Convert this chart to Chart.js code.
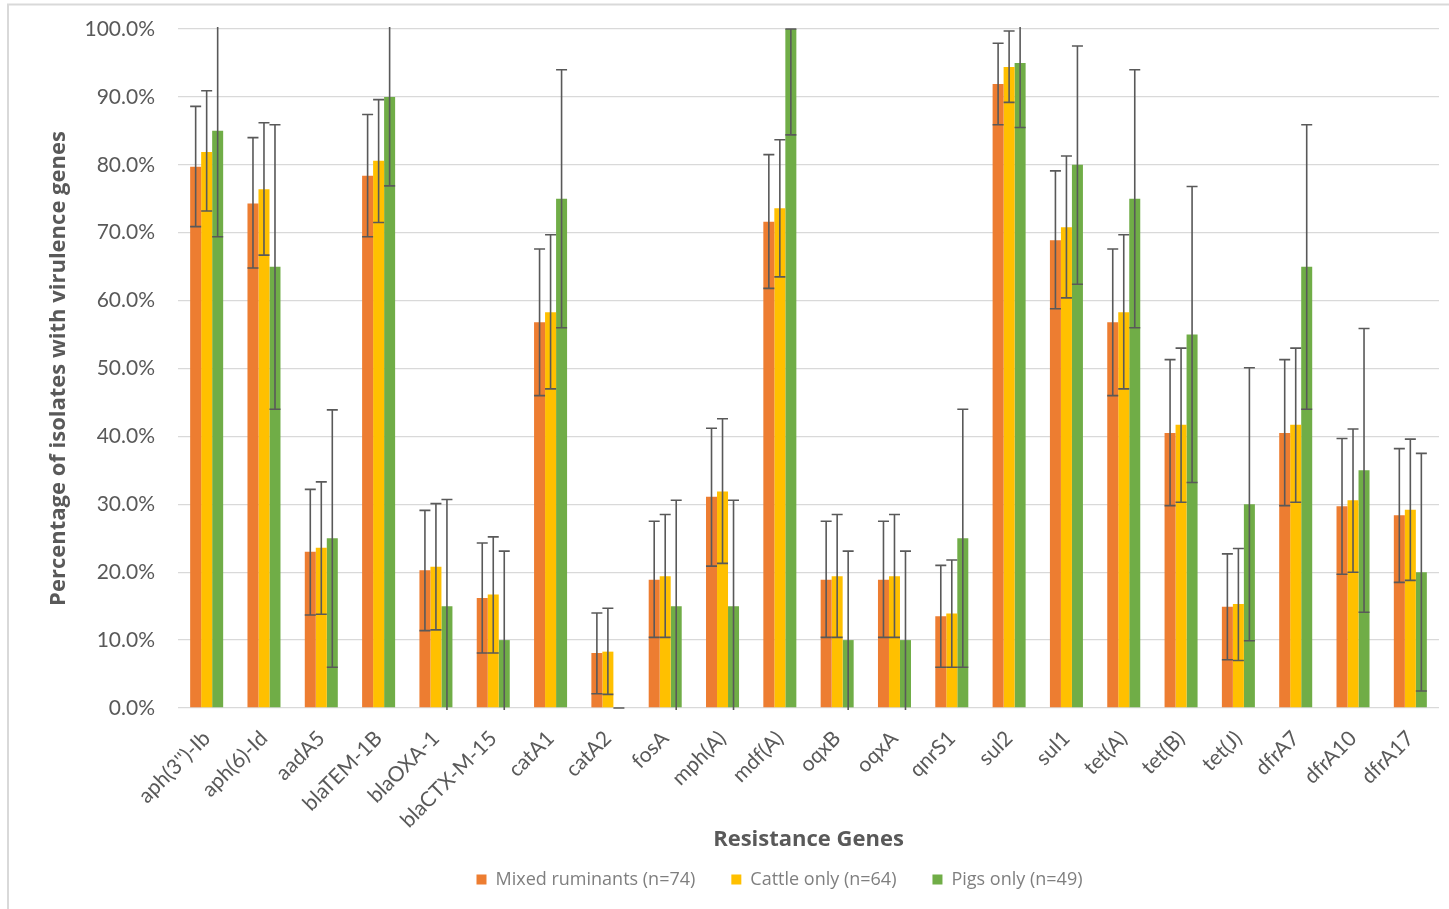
<!DOCTYPE html>
<html>
<head>
<meta charset="utf-8">
<title>Resistance genes by host group</title>
<script src="https://cdn.jsdelivr.net/npm/chart.js@4.4.1/dist/chart.umd.min.js"></script>
<style>
  html, body { margin: 0; padding: 0; background: #ffffff; }
  canvas { display: block; }
</style>
</head>
<body>
<canvas id="chart" width="1449" height="909" style="width:1449px;height:909px"></canvas>
<script>
// Resistance genes on the category axis
const genes = ["aph(3'')-Ib", "aph(6)-Id", "aadA5", "blaTEM-1B", "blaOXA-1", "blaCTX-M-15",
  "catA1", "catA2", "fosA", "mph(A)", "mdf(A)", "oqxB", "oqxA", "qnrS1", "sul2", "sul1",
  "tet(A)", "tet(B)", "tet(J)", "dfrA7", "dfrA10", "dfrA17"];

// Series names
const seriesNames = ["Mixed ruminants (n=74)", "Cattle only (n=64)", "Pigs only (n=49)"];

// Percentage of isolates carrying each gene
const mixedPct  = [79.7, 74.3, 23.0, 78.4, 20.3, 16.2, 56.8, 8.1, 18.9, 31.1, 71.6, 18.9, 18.9, 13.5, 91.9, 68.9, 56.8, 40.5, 14.9, 40.5, 29.7, 28.4];
const cattlePct = [81.9, 76.4, 23.6, 80.6, 20.8, 16.7, 58.3, 8.3, 19.4, 31.9, 73.6, 19.4, 19.4, 13.9, 94.4, 70.8, 58.3, 41.7, 15.3, 41.7, 30.6, 29.2];
const pigsPct   = [85, 65, 25, 90, 15, 10, 75, 0, 15, 15, 100, 10, 10, 25, 95, 80, 75, 55, 30, 65, 35, 20];

// Lower and upper ends of the error bars
const mixedLow   = [70.9, 64.8, 13.7, 69.4, 11.4, 8.1, 46.0, 2.1, 10.4, 20.9, 61.8, 10.4, 10.4, 6.0, 85.9, 58.8, 46.0, 29.8, 7.1, 29.8, 19.7, 18.5];
const mixedHigh  = [88.6, 84.0, 32.2, 87.4, 29.1, 24.3, 67.6, 14.0, 27.5, 41.2, 81.5, 27.5, 27.5, 21.0, 97.9, 79.1, 67.6, 51.3, 22.7, 51.3, 39.7, 38.2];
const cattleLow  = [73.2, 66.7, 13.8, 71.5, 11.5, 8.1, 47.0, 2.0, 10.4, 21.3, 63.5, 10.4, 10.4, 6.0, 89.2, 60.4, 47.0, 30.3, 7.0, 30.3, 20.0, 18.8];
const cattleHigh = [90.9, 86.2, 33.3, 89.6, 30.1, 25.2, 69.7, 14.7, 28.5, 42.6, 83.7, 28.5, 28.5, 21.8, 99.7, 81.3, 69.7, 53.0, 23.5, 53.0, 41.1, 39.6];
const pigsLow    = [69.4, 44.0, 6.0, 76.9, -0.7, -3.1, 56.0, 0, -0.7, -0.7, 84.4, -3.1, -3.1, 6.0, 85.5, 62.4, 56.0, 33.2, 9.9, 44.0, 14.1, 2.5];
const pigsHigh   = [100.6, 85.9, 43.9, 103.1, 30.7, 23.1, 94.0, 0, 30.6, 30.6, 100, 23.1, 23.1, 44.0, 104.5, 97.5, 94.0, 76.8, 50.1, 85.9, 55.9, 37.5];

// Value axis ticks
const yTicks = [0, 10, 20, 30, 40, 50, 60, 70, 80, 90, 100];

const colors = ["#ED7D31", "#FFC000", "#70AD47"];
const textGrey = "#595959";
const FONT = "Lato, 'Open Sans', sans-serif";
const TITLE_FONT = "'Open Sans', Lato, sans-serif";

// White page with the light frame on the left and top edges
const framePlugin = {
  id: 'frame',
  beforeDraw(chart) {
    const ctx = chart.ctx;
    ctx.save();
    ctx.fillStyle = '#ffffff';
    ctx.fillRect(0, 0, chart.width, chart.height);
    ctx.strokeStyle = '#d9d9d9';
    ctx.lineWidth = 2;
    ctx.beginPath();
    ctx.moveTo(8, chart.height);
    ctx.lineTo(8, 4.5);
    ctx.lineTo(chart.width, 4.5);
    ctx.stroke();
    ctx.restore();
  }
};

// Whiskers with caps, positioned from each bar element and the y scale
const errorBarPlugin = {
  id: 'errorBars',
  afterDatasetsDraw(chart) {
    const { ctx, chartArea: a } = chart;
    const y = chart.scales.y;
    ctx.save();
    ctx.beginPath();
    ctx.rect(a.left, a.top - 2, a.right - a.left, a.bottom - a.top + 4);
    ctx.clip();
    ctx.strokeStyle = '#595959';
    ctx.lineWidth = 1.6;
    chart.data.datasets.forEach((ds, i) => {
      const meta = chart.getDatasetMeta(i);
      meta.data.forEach((bar, j) => {
        const lo = y.getPixelForValue(ds.errLow[j]);
        const hi = y.getPixelForValue(ds.errHigh[j]);
        const half = bar.width / 2;
        ctx.beginPath();
        ctx.moveTo(bar.x, hi); ctx.lineTo(bar.x, lo);
        ctx.moveTo(bar.x - half, hi); ctx.lineTo(bar.x + half, hi);
        ctx.moveTo(bar.x - half, lo); ctx.lineTo(bar.x + half, lo);
        ctx.stroke();
      });
    });
    ctx.restore();
  }
};

// Legend row sits under the axis title, a little right of the page centre
const legendPlace = {
  id: 'legendPlace',
  afterLayout(chart) {
    const lg = chart.legend;
    if (!lg) return;
    const dx = 55;
    lg.left += dx; lg.right += dx;
    lg.top = 879 - lg.options.labels.padding - 8.5;
    lg.bottom = chart.height;
  }
};

const PLOT_TOP = 29;
const PLOT_BOTTOM = 708;
const LEGEND_H = 50;

new Chart(document.getElementById('chart'), {
  type: 'bar',
  data: {
    labels: genes,
    datasets: [
      { label: seriesNames[0], data: mixedPct,  errLow: mixedLow,  errHigh: mixedHigh,  backgroundColor: colors[0] },
      { label: seriesNames[1], data: cattlePct, errLow: cattleLow, errHigh: cattleHigh, backgroundColor: colors[1] },
      { label: seriesNames[2], data: pigsPct,   errLow: pigsLow,   errHigh: pigsHigh,   backgroundColor: colors[2] }
    ]
  },
  options: {
    responsive: false,
    animation: false,
    devicePixelRatio: 1,
    layout: { padding: { left: 10, right: 10, top: PLOT_TOP, bottom: 0 } },
    datasets: { bar: { categoryPercentage: 0.576, barPercentage: 1.0 } },
    plugins: {
      tooltip: { enabled: false },
      legend: {
        position: 'bottom',
        maxHeight: LEGEND_H,
        labels: {
          color: '#7f7f7f',
          font: { family: TITLE_FONT, size: 18 },
          boxWidth: 10,
          boxHeight: 10,
          padding: 36
        }
      }
    },
    scales: {
      x: {
        grid: { display: false },
        border: { display: false },
        ticks: {
          color: textGrey,
          font: { family: FONT, size: 21 },
          minRotation: 45,
          maxRotation: 45,
          padding: 10,
          autoSkip: false
        },
        title: {
          display: true,
          text: 'Resistance Genes',
          color: textGrey,
          font: { family: TITLE_FONT, size: 22, weight: 'bold' },
          padding: { top: 0, bottom: 6 }
        },
        afterFit(s) {
          const lh = s.chart.legend ? s.chart.legend.height : LEGEND_H;
          s.height = s.chart.height - lh - PLOT_BOTTOM;
        }
      },
      y: {
        min: 0,
        max: 100,
        afterBuildTicks(s) { s.ticks = yTicks.map(v => ({ value: v })); },
        grid: { color: '#d9d9d9', lineWidth: 1.3, drawTicks: false },
        border: { display: false },
        ticks: {
          color: textGrey,
          font: { family: FONT, size: 21 },
          padding: 23,
          callback: v => v.toFixed(1) + '%'
        },
        title: {
          display: true,
          text: 'Percentage of isolates with virulence genes',
          color: textGrey,
          font: { family: TITLE_FONT, size: 22, weight: 'bold' },
          padding: { top: 36, bottom: 0 }
        },
        afterFit(s) {
          s.width = 168;
          s.paddingTop = 0;
          s.paddingBottom = 0;
        }
      }
    }
  },
  plugins: [framePlugin, errorBarPlugin, legendPlace]
});
</script>
</body>
</html>
